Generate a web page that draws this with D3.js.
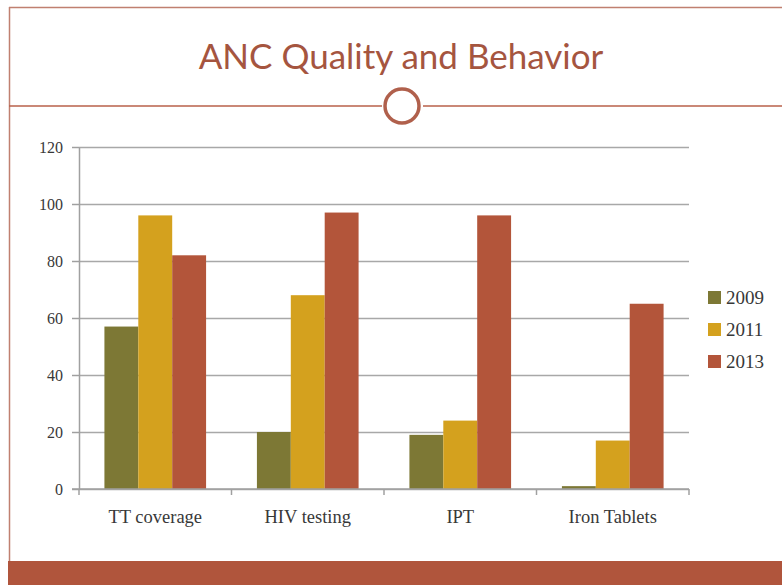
<!DOCTYPE html>
<html>
<head>
<meta charset="utf-8">
<script src="https://cdnjs.cloudflare.com/ajax/libs/d3/7.8.5/d3.min.js"></script>
<style>
	body { margin: 0; background: #fff; }
	svg { display: block; }
</style>
</head>
<body>
<div id="CHART"></div>
<script>
// chart data
var aCategories = ["TT coverage", "HIV testing", "IPT", "Iron Tablets"];
var aYears = ["2009", "2011", "2013"];
var a2009 = [57, 20, 19, 1];
var a2011 = [96, 68, 24, 17];
var a2013 = [82, 97, 96, 65];
var aYTicks = [0, 20, 40, 60, 80, 100, 120];
var aColours = ["#7d7835", "#d4a11e", "#b3553a"];

var iWidth = 782;
var iHeight = 585;
var sBrown = "#b0553c";

var d3Canvas = d3.select("#CHART").append("svg")
	.attr("width", iWidth)
	.attr("height", iHeight);

// frame and bottom bar
d3Canvas.append("line").attr("x1", 9).attr("x2", iWidth).attr("y1", 7.5).attr("y2", 7.5)
	.attr("stroke", "#c08070").attr("stroke-width", 1.5);
d3Canvas.append("line").attr("x1", 9.5).attr("x2", 9.5).attr("y1", 7).attr("y2", 562)
	.attr("stroke", "#c08070").attr("stroke-width", 1.5);
d3Canvas.append("rect").attr("x", 8).attr("y", 561).attr("width", iWidth - 8).attr("height", 24)
	.attr("fill", sBrown);

// title with rule and ring
d3Canvas.append("text")
	.attr("x", 401).attr("y", 69)
	.attr("text-anchor", "middle")
	.style("font-family", "Lato")
	.style("font-size", "35px")
	.style("fill", "#a5553f")
	.text("ANC Quality and Behavior");

d3Canvas.append("line").attr("x1", 9).attr("x2", 382).attr("y1", 106).attr("y2", 106)
	.attr("stroke", "#b8604a").attr("stroke-width", 1.3);
d3Canvas.append("line").attr("x1", 423).attr("x2", iWidth).attr("y1", 106).attr("y2", 106)
	.attr("stroke", "#b8604a").attr("stroke-width", 1.3);
d3Canvas.append("circle").attr("cx", 402).attr("cy", 106).attr("r", 17)
	.attr("fill", "none").attr("stroke", "#b0604c").attr("stroke-width", 3.5);

// plot area
var iLeft = 79, iRight = 689, iTop = 147, iBottom = 489;

var xAxes = d3.scaleBand().domain(aCategories).range([iLeft, iRight]).padding(0);
var xInner = d3.scaleBand().domain(aYears).range([0, xAxes.bandwidth()])
	.paddingInner(0).paddingOuter(0.75);
var yAxes = d3.scaleLinear().domain([0, 120]).range([iBottom, iTop]);

// gridlines
d3Canvas.append("g")
	.attr("transform", "translate(" + iLeft + ",0)")
	.call(d3.axisLeft(yAxes).tickValues(aYTicks).tickSize(-(iRight - iLeft)).tickFormat(""))
	.call(function(g) { g.select(".domain").remove(); })
	.selectAll("line").attr("stroke", "#a8a8a8").attr("stroke-width", 1.5);

// bars
var aSeries = [a2009, a2011, a2013];
var myGroups = d3Canvas.selectAll(".group")
	.data(aCategories)
	.enter().append("g")
	.attr("transform", function(d) { return "translate(" + xAxes(d) + ",0)"; });

myGroups.selectAll("rect")
	.data(function(d, i) { return aYears.map(function(y, j) { return { year: y, value: aSeries[j][i], col: aColours[j] }; }); })
	.enter().append("rect")
	.attr("x", function(d) { return xInner(d.year); })
	.attr("width", xInner.bandwidth())
	.attr("y", function(d) { return yAxes(d.value); })
	.attr("height", function(d) { return iBottom - yAxes(d.value); })
	.attr("fill", function(d) { return d.col; });

// y axis
var gY = d3Canvas.append("g")
	.attr("transform", "translate(" + iLeft + ",0)")
	.call(d3.axisLeft(yAxes).tickValues(aYTicks).tickSize(7).tickPadding(9).tickSizeOuter(0));
gY.select(".domain").attr("stroke", "#a0a0a0").attr("stroke-width", 1.5);
gY.selectAll("line").attr("stroke", "#a0a0a0").attr("stroke-width", 1.5);
gY.selectAll("text")
	.style("font-family", "Liberation Serif")
	.style("font-size", "16px")
	.style("fill", "#383838");

// x axis
var xTickPos = aCategories.map(function(c) { return xAxes(c); }).concat([iRight]);
var gX = d3Canvas.append("g")
	.attr("transform", "translate(0," + iBottom + ")");
gX.append("line").attr("x1", iLeft - 7).attr("x2", iRight).attr("y1", 0).attr("y2", 0)
	.attr("stroke", "#a0a0a0").attr("stroke-width", 1.5);
gX.selectAll(".tick")
	.data(xTickPos)
	.enter().append("line")
	.attr("x1", function(d) { return d; }).attr("x2", function(d) { return d; })
	.attr("y1", 0).attr("y2", 6)
	.attr("stroke", "#a0a0a0").attr("stroke-width", 1.5);
gX.selectAll(".lbl")
	.data(aCategories)
	.enter().append("text")
	.attr("x", function(d) { return xAxes(d) + xAxes.bandwidth() / 2; })
	.attr("y", 34)
	.attr("text-anchor", "middle")
	.style("font-family", "Liberation Serif")
	.style("font-size", "18.5px")
	.style("fill", "#383838")
	.text(function(d) { return d; });

// legend
var myLegend = d3Canvas.selectAll(".legend")
	.data(aYears)
	.enter().append("g")
	.attr("transform", function(d, i) { return "translate(708," + (291 + i * 32) + ")"; });
myLegend.append("rect").attr("width", 13).attr("height", 13)
	.attr("fill", function(d, i) { return aColours[i]; });
myLegend.append("text")
	.attr("x", 18).attr("y", 12.5)
	.style("font-family", "Liberation Serif")
	.style("font-size", "19px")
	.style("fill", "#383838")
	.text(function(d) { return d; });
</script>
</body>
</html>
